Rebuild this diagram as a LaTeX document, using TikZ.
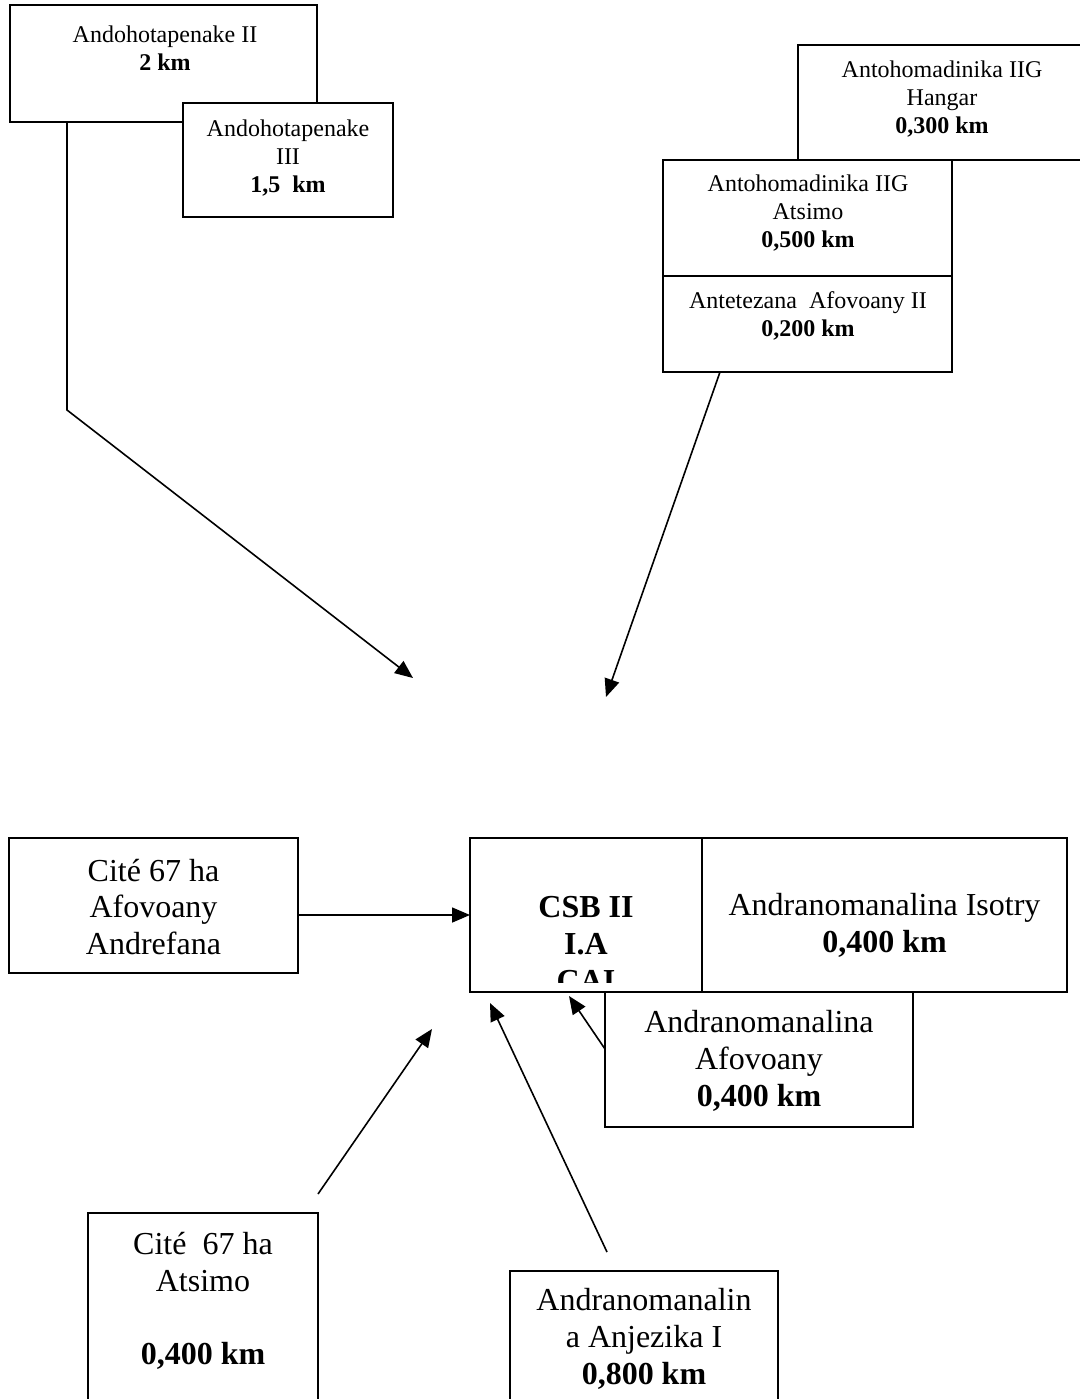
\documentclass[tikz,border=0pt]{standalone}
\usepackage{fontspec}
\setmainfont{Liberation Serif}
\usetikzlibrary{arrows.meta,fit}
\newcommand{\smalltxt}{\fontsize{12pt}{13.8pt}\selectfont}
\newcommand{\bigtxt}{\fontsize{16pt}{18.4pt}\selectfont}
\begin{document}
\begin{tikzpicture}[x=0.5pt,y=-0.5pt,
  box/.style={draw,line width=1pt,fill=white,inner sep=0pt,outer sep=0pt},
  stxt/.style={align=center,inner sep=0pt,font=\smalltxt},
  btxt/.style={align=center,inner sep=0pt,font=\bigtxt},
  arr/.style={line width=0.8pt,-{Triangle[length=9pt,width=7.5pt]}}]
\useasboundingbox (0,0) rectangle (1080,1399);
\clip (0,0) rectangle (1080,1399);

% top left
\node[box,fit={(10,5) (317,122)}] (b1) {};
\node[stxt] (b1t) at (165,48) {Andohotapenake II\\\textbf{2 km}};
\node[box,fit={(183,103) (393,217)}] (b2) {};
\node[stxt] (b2t) at (288,158) {Andohotapenake\\III\\\textbf{1,5\ \ km}};

% top right
\node[box,fit={(798,45) (1095,160)}] (b3) {};
\node[stxt] (b3t) at (942,99) {Antohomadinika IIG\\Hangar\\\textbf{0,300 km}};
\node[box,fit={(663,160) (952,276)}] (b4) {};
\node[stxt] (b4t) at (808,213) {Antohomadinika IIG\\Atsimo\\\textbf{0,500 km}};
\node[box,fit={(663,276) (952,372)}] (b5) {};
\node[stxt] (b5t) at (808,316) {Antetezana\ \ Afovoany II\\\textbf{0,200 km}};

% middle
\node[box,fit={(9,838) (298,973)}] (b6) {};
\node[btxt] (b6t) at (153.5,907) {Cit\'e 67 ha\\Afovoany\\Andrefana};
\node[box,fit={(470,838) (702,992)}] (b7) {};
\begin{scope}
\clip (470,838) rectangle (702,982);
\node[btxt,font=\bigtxt\bfseries] (b7t) at (586,944) {CSB II\\I.A\\CAI};
\end{scope}
\node[box,fit={(702,838) (1067,992)}] (b8) {};
\node[btxt] (b8t) at (884.5,925) {Andranomanalina Isotry\\\textbf{0,400 km}};
\node[box,fit={(605,992) (913,1127)}] (b9) {};
\node[btxt] (b9t) at (759,1061) {Andranomanalina\\Afovoany\\\textbf{0,400 km}};

% bottom
\node[box,fit={(88,1213) (318,1430)}] (b10) {};
\node[btxt] (b10t) at (203,1301) {Cit\'e\ \ 67 ha\\Atsimo\\[18.4pt]\textbf{0,400 km}};
\node[box,fit={(510,1271) (778,1430)}] (b11) {};
\node[btxt] (b11t) at (644,1339) {Andranomanalin\\a Anjezika I\\\textbf{0,800 km}};

% free ends
\coordinate (k1) at (67,410);
\coordinate (p1) at (413,678);
\coordinate (p2) at (606,697);
\coordinate (p3) at (569,996);
\coordinate (p4) at (432,1029);
\coordinate (p5) at (490,1003);

% connectors
\draw[arr] ([xshift=28.5pt]b1.south west) -- (k1) -- (p1);
\draw[arr] ([xshift=28.5pt]b5.south west) -- (p2);
\draw[arr] ([yshift=-4.75pt]b6.east) -- ([yshift=-4.75pt]b6.east -| b7.west);
\draw[arr] ([yshift=5.25pt]b9.west) -- (p3);
\draw[arr] ([yshift=9.5pt]b10.north east) -- (p4);
\draw[arr] ([xshift=48.5pt,yshift=9.5pt]b11.north west) -- (p5);
\end{tikzpicture}
\end{document}
